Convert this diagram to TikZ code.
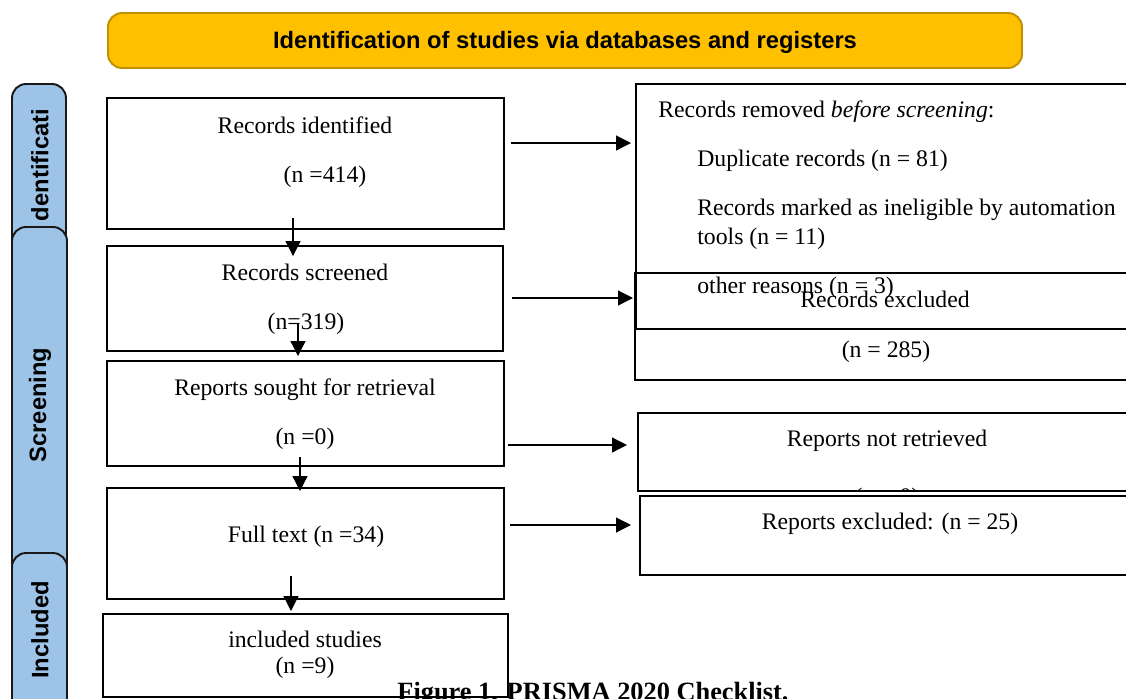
\documentclass[tikz,border=0pt]{standalone}
\usepackage{fontspec}
\setmainfont{Liberation Serif}
\setsansfont{Liberation Sans}
\usetikzlibrary{arrows.meta}

\definecolor{amarillo}{HTML}{FFC000}
\definecolor{bordeam}{HTML}{BF9000}
\definecolor{celeste}{HTML}{9DC3E6}

\tikzset{
  caja/.style={draw=black, line width=1.1pt},
  etapa/.style={draw=black!90, line width=1.1pt, fill=celeste, rounded corners=8pt},
  texto/.style={font=\fontsize{13.5}{15}\selectfont, inner sep=0pt, anchor=base},
  izq/.style={texto, anchor=base west},
  rotulo/.style={font=\sffamily\bfseries\fontsize{13.5}{15}\selectfont, rotate=90, inner sep=0pt},
  flecha/.style={line width=0.7pt, -{Triangle[length=0.3cm, width=0.3cm]}},
}

\begin{document}
\begin{tikzpicture}[x=0.02cm, y=-0.02cm]
	\useasboundingbox (0,0) rectangle (1126,698);

	% Cabecera
	\draw[fill=amarillo, draw=bordeam, line width=1.1pt, rounded corners=8pt] (108,13) rectangle (1022,68);
	\node[font=\sffamily\bfseries\fontsize{13.5}{15}\selectfont] (cab) at (565,42) {Identification of studies via databases and registers};

	% Barras laterales
	\draw[etapa] (12,84) rectangle (66,262);
	\node[rotulo] (fase1) at (40,165) {dentificati};
	\draw[etapa] (12,227) rectangle (67,580);
	\node[rotulo] (fase2) at (40,405) {Screening};
	\draw[etapa] (12,553) rectangle (67,720);
	\node[rotulo] (fase3) at (40,630) {Included};

	% Columna izquierda
	\draw[caja] (107,98) rectangle (504,229);
	\node[texto] (ident) at (305,133) {Records identified};
	\node[texto] (identn) at (325,182) {(n =414)};

	\draw[caja] (107,246) rectangle (503,351);
	\node[texto] (scr) at (305,280) {Records screened};
	\node[texto] (scrn) at (306,329) {(n=319)};

	\draw[caja] (107,361) rectangle (504,466);
	\node[texto] (sought) at (305,395) {Reports sought for retrieval};
	\node[texto] (soughtn) at (305,444) {(n =0)};

	\draw[caja] (107,488) rectangle (504,599);
	\node[texto] (full) at (306,542) {Full text (n =34)};

	\draw[caja] (103,614) rectangle (508,697);
	\node[texto] (incl) at (305,647) {included studies};
	\node[texto] (incln) at (305,673) {(n =9)};

	% Columna derecha
	\draw[caja] (636,84) rectangle (1130,329);
	\node[izq] (rem) at (658,117) {Records removed \textit{before screening}:};
	\node[izq] (dup) at (697,166) {Duplicate records (n = 81)};
	\node[izq] (auto) at (697,215) {Records marked as ineligible by automation};
	\node[izq] (auto2) at (697,244) {tools (n = 11)};
	\node[izq] (otras) at (697,293) {other reasons (n = 3)};

	\draw[caja] (635,273) rectangle (1130,380);
	\node[texto] (exc) at (885,307) {Records excluded};
	\node[texto] (excn) at (886,357) {(n = 285)};

	\draw[caja] (638,413) rectangle (1130,491);
	\node[texto] (notret) at (887,446) {Reports not retrieved};
	\begin{scope}
		\clip (638,413) rectangle (1130,490);
		\node[texto] (notretn) at (887,504) {(n = 0)};
	\end{scope}

	\draw[caja] (640,496) rectangle (1130,575);
	\node[texto] (repexc) at (890,529) {Reports excluded: (n = 25)};

	% Flechas
	\coordinate (h1a) at (511,143); \coordinate (h1b) at (631,143);
	\coordinate (h2a) at (512,298); \coordinate (h2b) at (633,298);
	\coordinate (h3a) at (508,445); \coordinate (h3b) at (627,445);
	\coordinate (h4a) at (510,525); \coordinate (h4b) at (631,525);
	\draw[flecha] (h1a) -- (h1b);
	\draw[flecha] (h2a) -- (h2b);
	\draw[flecha] (h3a) -- (h3b);
	\draw[flecha] (h4a) -- (h4b);

	\coordinate (v1a) at (293,218); \coordinate (v1b) at (293,256);
	\coordinate (v2a) at (298,324); \coordinate (v2b) at (298,356);
	\coordinate (v3a) at (300,457); \coordinate (v3b) at (300,491);
	\coordinate (v4a) at (291,576); \coordinate (v4b) at (291,611);
	\draw[flecha] (v1a) -- (v1b);
	\draw[flecha] (v2a) -- (v2b);
	\draw[flecha] (v3a) -- (v3b);
	\draw[flecha] (v4a) -- (v4b);

	% Pie de figura
	\node[font=\bfseries\fontsize{15}{17}\selectfont, inner sep=0pt, anchor=base] (pie) at (593,700) {Figure 1. PRISMA 2020 Checklist.};
\end{tikzpicture}
\end{document}
